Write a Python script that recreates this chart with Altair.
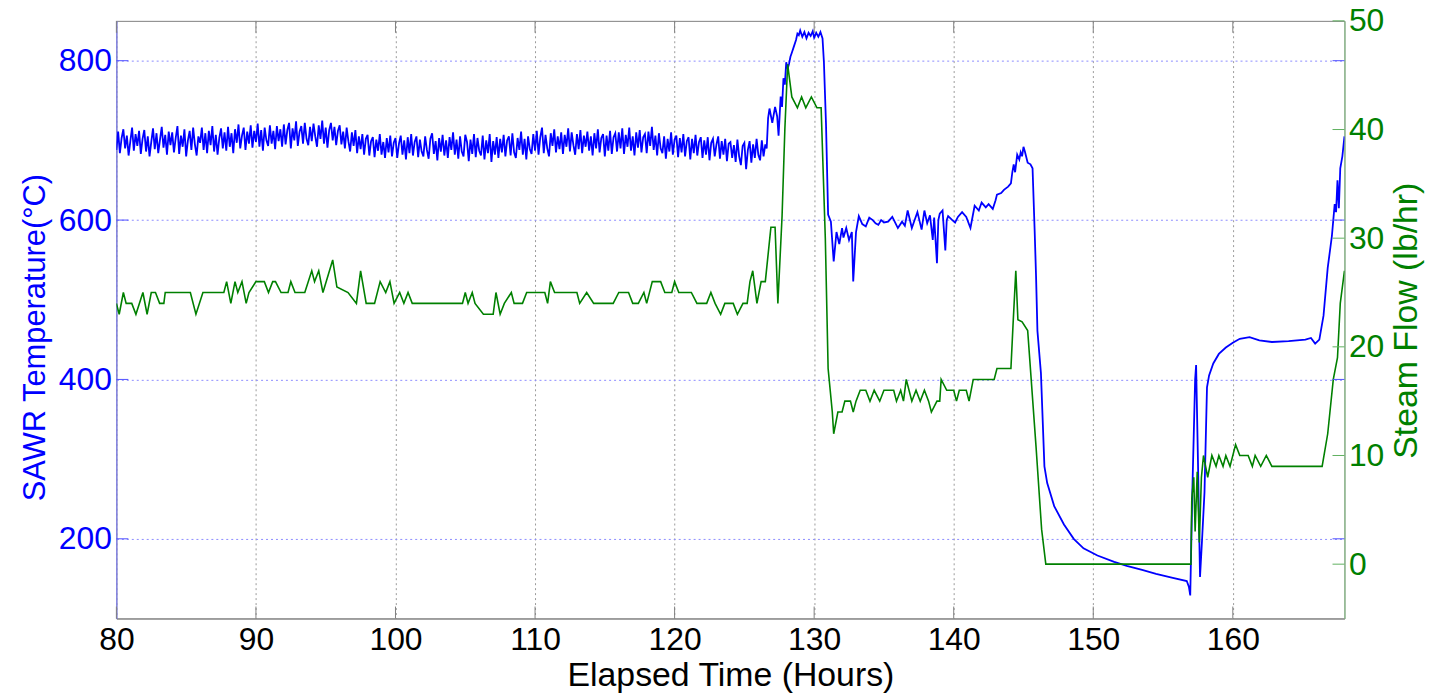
import altair as alt
import pandas as pd

# ---------------- data ----------------
# SAWR temperature (°C), steady noisy stretch sampled every 0.125 h from 80 h to 126.5 h
temp_steady_start = 80.0
temp_steady_step = 0.125
temp_steady = [
    688, 711, 684, 703, 714, 690, 706, 681, 699, 716, 687, 708, 693, 712, 683, 702,
    713, 686, 705, 680, 698, 715, 689, 709, 684, 701, 717, 691, 707, 682, 711, 694,
    710, 685, 703, 718, 683, 706, 692, 714, 680, 700, 712, 688, 716, 695, 681, 705,
    697, 716, 688, 709, 684, 712, 694, 718, 686, 707, 682, 703, 715, 690, 710, 687,
    717, 692, 709, 684, 714, 697, 720, 690, 706, 716, 688, 711, 696, 719, 691, 712,
    698, 721, 692, 713, 687, 716, 700, 693, 719, 696, 712, 689, 718, 699, 714, 692,
    720, 695, 713, 722, 690, 715, 700, 724, 693, 711, 718, 696, 722, 702, 694, 717,
    699, 721, 705, 692, 719, 702, 725, 696, 716, 691, 713, 722, 700, 717, 694, 712,
    719, 695, 711, 690, 716, 699, 686, 710, 693, 713, 684, 705, 689, 708, 682, 702,
    707, 681, 699, 704, 679, 701, 687, 708, 682, 698, 678, 703, 685, 706, 680, 697,
    703, 678, 696, 706, 682, 700, 676, 704, 684, 708, 681, 698, 705, 679, 701, 686,
    680, 705, 688, 677, 702, 709, 683, 699, 675, 703, 686, 707, 681, 700, 678, 704,
    688, 710, 682, 701, 677, 705, 686, 680, 707, 698, 674, 701, 683, 708, 679, 703,
    687, 681, 706, 676, 700, 684, 708, 673, 699, 682, 704, 678, 702, 685, 707, 680,
    700, 705, 681, 709, 685, 678, 703, 688, 711, 682, 702, 676, 705, 689, 683, 708,
    687, 712, 682, 704, 716, 684, 707, 690, 680, 709, 693, 714, 685, 705, 689, 710,
    683, 707, 692, 715, 686, 710, 694, 682, 708, 689, 713, 684, 706, 692, 711, 687,
    705, 681, 709, 690, 714, 685, 703, 708, 680, 706, 687, 712, 683, 704, 709, 686,
    710, 690, 715, 683, 707, 692, 716, 687, 705, 681, 710, 691, 713, 685, 704, 708,
    684, 711, 693, 717, 688, 706, 681, 709, 690, 684, 705, 677, 702, 686, 710, 682,
    701, 706, 679, 703, 685, 708, 680, 699, 704, 676, 702, 684, 707, 681, 698, 704,
    678, 700, 682, 704, 675, 697, 702, 680, 695, 705, 677, 699, 682, 702, 674, 696,
    698, 678, 694, 673, 701, 680, 669, 693, 697, 664, 688, 699, 672, 695, 678, 702,
    682, 675, 700, 680, 695,
]

# SAWR temperature (°C), transient part (hours, values)
temp_hours_b = [
    126.6, 126.7, 126.8, 127.0, 127.2, 127.35, 127.45, 127.6, 127.7, 127.8,
    127.9, 128.0, 128.1, 128.2, 128.3, 128.4, 128.55, 128.7, 128.8, 128.9,
    129.0, 129.15, 129.3, 129.45, 129.6, 129.75, 129.9, 130.0, 130.15, 130.3,
    130.45, 130.6, 130.7, 130.85, 131.0, 131.2, 131.4, 131.6, 131.8, 132.0,
    132.1, 132.3, 132.5, 132.7, 132.8, 133.0, 133.2, 133.45, 133.7, 133.95,
    134.2, 134.4, 134.6, 134.8, 135.0, 135.3, 135.6, 136.0, 136.3, 136.5,
    136.7, 137.0, 137.2, 137.4, 137.7, 137.9, 138.1, 138.3, 138.5, 138.6,
    138.8, 138.9, 139.0, 139.2, 139.4, 139.5, 139.6, 139.9, 140.1, 140.3,
    140.6, 140.9, 141.2, 141.5, 141.8, 142.0, 142.3, 142.5, 142.8, 143.0,
    143.1, 143.4, 143.6, 143.9, 144.1, 144.2, 144.3, 144.4, 144.55, 144.7,
    144.8, 144.9, 145.0, 145.1, 145.3, 145.5, 145.65, 145.8, 145.9, 146.0,
    146.25, 146.5, 146.7, 147.2, 147.9, 148.6, 149.3, 150.3, 151.5, 152.4,
    153.5, 154.5, 155.7, 156.7, 156.85, 156.95, 157.1, 157.3, 157.37, 157.5,
    157.65, 157.8, 157.97, 158.15, 158.3, 158.6, 159.0, 159.5, 160.0, 160.5,
    161.2, 161.9, 162.8, 164.0, 165.2, 165.6, 165.9, 166.2, 166.5, 166.8,
    167.1, 167.3, 167.4, 167.5, 167.6, 167.7, 167.85, 168.0,
]
temp_values_b = [
    690, 728, 740, 722, 742, 730, 706, 755, 742, 778,
    770, 798, 790, 796, 805, 810, 818, 826, 834, 832,
    838, 830, 836, 828, 835, 831, 837, 829, 835, 830,
    836, 828, 798, 720, 607, 598, 548, 585, 570, 590,
    578, 590, 575, 585, 523, 585, 605, 595, 592, 603,
    600, 596, 594, 600, 597, 598, 604, 590, 598, 593,
    612, 590, 600, 610, 588, 612, 596, 606, 575, 603,
    546, 600, 608, 612, 562, 600, 605, 600, 597, 604,
    610, 604, 590, 618, 612, 622, 616, 620, 614, 625,
    632, 634, 638, 642, 646, 660, 670, 660, 682, 676,
    685, 680, 692, 686, 672, 670, 665, 587, 530, 461,
    408, 291, 270, 241, 218, 200, 188, 179, 171, 166,
    161, 156, 151, 147, 140, 129, 260, 400, 418, 300,
    152, 200, 258, 390, 405, 420, 432, 440, 446, 451,
    453, 449, 447, 448, 450, 452, 445, 450, 480, 540,
    580, 620, 610, 650, 615, 665, 680, 705,
]

# Steam flow (lb/hr)
flow_hours = [
    80.0, 80.2, 80.5, 80.7, 81.1, 81.4, 81.9, 82.2, 82.5, 82.8,
    83.1, 83.4, 83.5, 85.3, 85.7, 86.2, 87.7, 87.9, 88.2, 88.5,
    88.7, 89.0, 89.3, 89.5, 90.0, 90.6, 90.9, 91.2, 91.4, 91.8,
    92.3, 92.5, 92.8, 93.5, 94.0, 94.2, 94.5, 94.8, 95.5, 95.8,
    96.6, 97.2, 97.5, 97.9, 98.5, 98.9, 99.3, 99.6, 99.9, 100.3,
    100.6, 100.9, 101.2, 104.8, 105.0, 105.2, 105.5, 105.7, 106.3, 107.0,
    107.2, 107.5, 107.8, 108.3, 108.5, 109.1, 109.4, 110.7, 110.9, 111.1,
    111.4, 113.0, 113.2, 113.7, 114.2, 115.6, 116.0, 116.7, 117.0, 117.4,
    117.8, 118.0, 118.4, 119.0, 119.3, 119.8, 120.0, 120.3, 121.2, 121.6,
    122.3, 122.6, 122.9, 123.3, 123.6, 124.2, 124.5, 124.9, 125.2, 125.4,
    125.6, 125.9, 126.2, 126.5, 126.9, 127.2, 127.4, 127.7, 127.9, 128.1,
    128.4, 128.8, 129.1, 129.4, 129.8, 130.2, 130.5, 130.8, 131.0, 131.3,
    131.4, 131.7, 132.0, 132.2, 132.6, 132.8, 133.0, 133.3, 133.7, 134.0,
    134.3, 134.7, 135.0, 135.7, 135.9, 136.2, 136.4, 136.6, 137.0, 137.3,
    137.6, 137.9, 138.2, 138.4, 138.8, 139.0, 139.1, 139.5, 140.0, 140.2,
    140.4, 140.9, 141.1, 141.4, 142.9, 143.1, 144.1, 144.25, 144.45, 144.6,
    144.9, 145.3, 145.9, 146.3, 146.6, 157.0, 157.06, 157.2, 157.3, 157.45,
    157.6, 157.75, 157.9, 158.2, 158.5, 158.8, 159.0, 159.3, 159.5, 159.8,
    160.2, 160.5, 161.1, 161.4, 161.6, 162.0, 162.4, 162.8, 166.4, 166.8,
    167.2, 167.5, 167.7, 168.0,
]
flow_values = [
    24, 23, 25, 24, 24, 23, 25, 23, 25, 25,
    24, 24, 25, 25, 23, 25, 25, 26, 24, 26,
    25, 26, 24, 25, 26, 26, 25, 26, 26, 25,
    25, 26, 25, 25, 27, 26, 27, 25, 28, 25.5,
    25, 24, 27, 24, 24, 26, 25, 26, 24, 25,
    24, 25, 24, 24, 25, 24, 25, 24, 23, 23,
    25, 23, 24, 25, 24, 24, 25, 25, 24, 26,
    25, 25, 24, 25, 24, 24, 25, 25, 24, 24,
    25, 24, 26, 26, 25, 25, 26, 25, 25, 24,
    24, 25, 24, 23, 24, 24, 23, 24, 24, 26,
    27, 24, 26, 26, 31, 31, 24, 32, 40, 46,
    43, 42, 43, 42, 43, 42, 42, 30, 18, 14,
    12, 14, 14, 15, 15, 14, 15, 16, 16, 15,
    16, 15, 16, 16, 15, 16, 15, 17, 15, 16,
    15, 16, 15, 14, 15, 15, 17, 16, 16, 15,
    16, 16, 15, 17, 17, 18, 18, 22, 27, 22.5,
    22.3, 21.5, 10.8, 3.2, 0, 0, 6, 8, 3, 8.5,
    2, 8, 10, 8, 10, 9, 10, 9, 10, 9,
    11, 10, 10, 9, 10, 9, 10, 9, 9, 12,
    17, 19, 24, 27,
]

x_ticks = [80, 90, 100, 110, 120, 130, 140, 150, 160]
temp_ticks = [200, 400, 600, 800]
flow_ticks = [0, 10, 20, 30, 40, 50]

# ---------------- tables ----------------
steady_hours = [temp_steady_start + temp_steady_step * i for i in range(len(temp_steady))]
df_temp = pd.DataFrame({
    "hour": steady_hours + temp_hours_b,
    "temp": temp_steady + temp_values_b,
})
df_flow = pd.DataFrame({"hour": flow_hours, "flow": flow_values})
df_xt = pd.DataFrame({"hour": x_ticks})
df_tt = pd.DataFrame({"v": temp_ticks})
df_ft = pd.DataFrame({"v": flow_ticks})

W, H = 1235, 601
FONT = "Liberation Sans"
BLUE = "#0000ff"
GREEN = "#008000"

x_scale = alt.Scale(domain=[80, 168], nice=False, zero=False)
yl_scale = alt.Scale(domain=[100, 850], nice=False, zero=False)
yr_scale = alt.Scale(domain=[-5, 50], nice=False, zero=False)

x_axis = alt.Axis(
    values=x_ticks, title="Elapsed Time (Hours)", grid=True, gridColor="#9a9a9a",
    gridDash=[2, 3], ticks=False, tickSize=0, domainColor="#808080",
    labelFont=FONT, labelFontSize=32, labelColor="#000000", labelPadding=6,
    labelFlush=False,
    titleFont=FONT, titleFontSize=34, titleFontWeight="normal", titleColor="#000000",
    titleY=67, titleBaseline="alphabetic",
)

left_axis = alt.Axis(
    orient="left", values=temp_ticks, title="SAWR Temperature(°C)", grid=True,
    gridColor="#8c8cff", gridDash=[2, 3], ticks=False, tickSize=0,
    domainColor="#7070ff", labelFont=FONT, labelFontSize=32, labelColor=BLUE,
    labelPadding=5, titleFont=FONT, titleFontSize=31, titleFontWeight="normal",
    titleColor=BLUE, titleAngle=270, titleX=-72, titleY=318,
    titleAlign="center", titleBaseline="alphabetic",
)

right_axis = alt.Axis(
    orient="right", values=flow_ticks, title="Steam Flow (lb/hr)", grid=False,
    ticks=False, tickSize=0, domainColor="#7fbf7f", labelFont=FONT,
    labelFontSize=32, labelColor=GREEN, labelPadding=4, titleFont=FONT,
    titleFontSize=34, titleFontWeight="normal", titleColor=GREEN, titleAngle=270,
    titleX=72, titleY=301, titleAlign="center", titleBaseline="alphabetic",
)

temp_line = alt.Chart(df_temp).mark_line(color=BLUE, strokeWidth=1.8, clip=True).encode(
    x=alt.X("hour:Q", scale=x_scale, axis=x_axis),
    y=alt.Y("temp:Q", scale=yl_scale, axis=left_axis),
)

flow_line = alt.Chart(df_flow).mark_line(color=GREEN, strokeWidth=1.6, clip=True).encode(
    x=alt.X("hour:Q", scale=x_scale, axis=x_axis),
    y=alt.Y("flow:Q", scale=yr_scale, axis=right_axis),
)

TL = 12
x_ticks_bottom = alt.Chart(df_xt).mark_rule(color="#808080", strokeWidth=1).encode(
    x=alt.X("hour:Q", scale=x_scale, axis=x_axis), y=alt.value(H - TL), y2=alt.value(H)
)
x_ticks_top = alt.Chart(df_xt).mark_rule(color="#808080", strokeWidth=1).encode(
    x=alt.X("hour:Q", scale=x_scale, axis=x_axis), y=alt.value(0), y2=alt.value(TL)
)
left_ticks = alt.Chart(df_tt).mark_rule(color="#5050ff", strokeWidth=1).encode(
    y=alt.Y("v:Q", scale=yl_scale, axis=None), x=alt.value(0), x2=alt.value(TL)
)
left_ticks_mirror = alt.Chart(df_tt).mark_rule(color="#5050ff", strokeWidth=1).encode(
    y=alt.Y("v:Q", scale=yl_scale, axis=None), x=alt.value(W - TL), x2=alt.value(W)
)
right_ticks = alt.Chart(df_ft).mark_rule(color="#60b060", strokeWidth=1).encode(
    y=alt.Y("v:Q", scale=yr_scale, axis=None), x=alt.value(W - TL), x2=alt.value(W)
)

chart = (
    alt.layer(
        temp_line, flow_line, x_ticks_bottom, x_ticks_top,
        left_ticks, left_ticks_mirror, right_ticks,
    )
    .resolve_scale(y="independent")
    .properties(
        width=W, height=H,
        padding={"left": 109, "top": 11, "right": 81, "bottom": 73},
        autosize=alt.AutoSizeParams(type="none"),
        background="#ffffff",
    )
    .configure_view(stroke="#808080", strokeWidth=1)
)

chart.save("out.html", embed_options={"renderer": "svg", "actions": False})
